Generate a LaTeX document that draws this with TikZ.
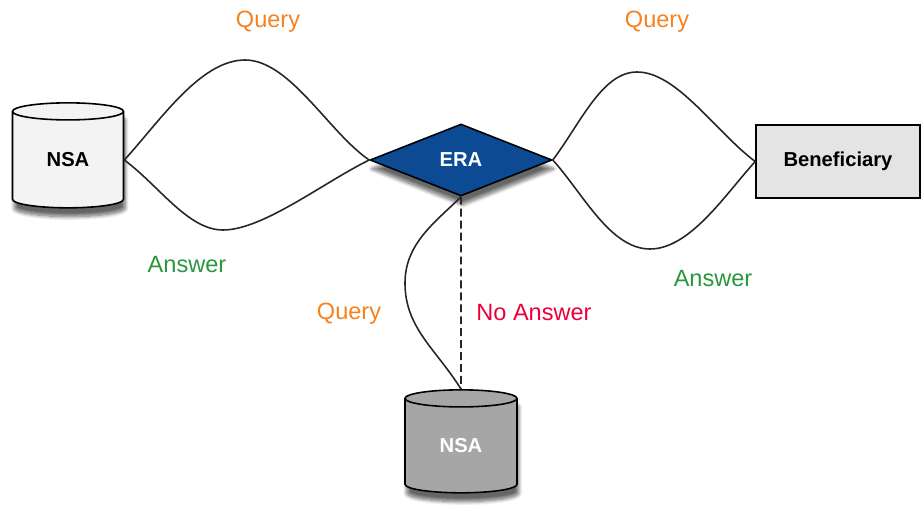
\documentclass[tikz,border=0pt]{standalone}
\usepackage{fontspec}
\setmainfont{Liberation Sans}
\usetikzlibrary{shapes.geometric, shadows.blur}
\definecolor{erablue}{RGB}{12,74,148}
\definecolor{nsagray}{RGB}{166,166,166}
\definecolor{nsalight}{RGB}{243,243,243}
\definecolor{boxgray}{RGB}{228,228,228}
\definecolor{queryorange}{RGB}{245,130,32}
\definecolor{answergreen}{RGB}{42,150,62}
\definecolor{noansred}{RGB}{236,0,60}
\tikzset{
  db/.style={cylinder, shape border rotate=90, aspect=0.4, draw, line width=0.9pt,
    minimum width=2.22cm, minimum height=2.1cm, inner sep=0pt,
    blur shadow={shadow xshift=1pt, shadow yshift=-5pt, shadow opacity=60, shadow blur steps=8},
    font=\fontsize{11.5}{13}\selectfont\bfseries},
  link/.style={line width=0.9pt, black!85},
  lbl/.style={font=\fontsize{13.4}{16}\selectfont},
}
\begin{document}
\begin{tikzpicture}[x=0.02cm, y=-0.02cm]
  \useasboundingbox (0,0) rectangle (921,517);
  % nodes
  \node[db, fill=nsalight] (nsal) at (68,160) {NSA};
  \node[db, fill=nsagray, text=white, minimum width=2.24cm, minimum height=2.06cm] (nsab) at (461,446) {NSA};
  \node[diamond, draw, fill=erablue, line width=0.9pt, inner sep=0pt,
    minimum width=3.64cm, minimum height=1.44cm, text=white,
    blur shadow={shadow xshift=1pt, shadow yshift=-5pt, shadow opacity=60, shadow blur steps=8},
    font=\fontsize{11.5}{13}\selectfont\bfseries] (era) at (461,160) {ERA};
  \node[rectangle, draw, fill=boxgray, line width=0.9pt, inner sep=0pt,
    minimum width=3.28cm, minimum height=1.46cm,
    font=\fontsize{11.5}{13}\selectfont\bfseries] (bene) at (838,161.5) {Beneficiary};
  % connectors
  \draw[link] (nsal.east) .. controls +(35,-38) and +(-45,0) .. (245,60)
    .. controls +(45,0) and +(-40,-27) .. (era.west);
  \draw[link] (nsal.east) .. controls +(35,26) and +(-35,0) .. (223,230)
    .. controls +(40,0) and +(-45,22) .. (era.west);
  \draw[link] (era.east) .. controls +(28,-37) and +(-35,0) .. (637,72)
    .. controls +(40,0) and +(-40,-30) .. (bene.west);
  \draw[link] (era.east) .. controls +(30,33) and +(-40,0) .. (650,249)
    .. controls +(40,0) and +(-30,33) .. (bene.west);
  \draw[link] (era.south) .. controls +(-25,25) and +(0,-40) .. (405,283)
    .. controls +(0,45) and +(-25,-40) .. (nsab.north);
  \draw[link, dash pattern=on 4.5pt off 2.3pt] (era.south) -- (nsab.north);
  % labels
  \node[lbl, text=queryorange] (q1) at (268,22) {Query};
  \node[lbl, text=queryorange] (q2) at (657,22) {Query};
  \node[lbl, text=answergreen] (a1) at (187,265) {Answer};
  \node[lbl, text=answergreen] (a2) at (713,279) {Answer};
  \node[lbl, text=queryorange] (q3) at (349,314) {Query};
  \node[lbl, text=noansred] (na) at (534,313) {No Answer};
\end{tikzpicture}
\end{document}
